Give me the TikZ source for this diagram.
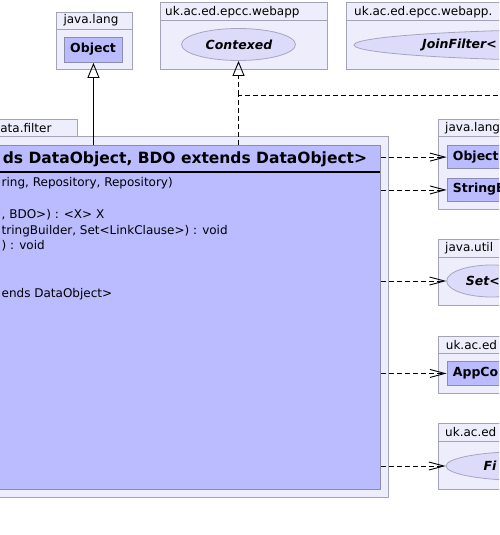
\documentclass[tikz,border=0pt]{standalone}
\usepackage{fontspec}
\setmainfont{DejaVu Sans}
\usetikzlibrary{arrows.meta}

\definecolor{pkgfill}{HTML}{EDEDFB}
\definecolor{pkgline}{HTML}{A3A3B8}
\definecolor{clsfill}{HTML}{BBBBFF}
\definecolor{clsline}{HTML}{8C8CB0}
\definecolor{ifill}{HTML}{DCDCFA}
\definecolor{iline}{HTML}{A5A5C0}

\tikzset{
  pkg/.style={draw=pkgline, fill=pkgfill, line width=0.9pt},
  clsbox/.style={draw=clsline, fill=clsfill, line width=0.9pt, inner sep=0pt, anchor=north west},
  ifc/.style={ellipse, draw=iline, fill=ifill, line width=0.8pt, inner sep=0pt},
  pkglabel/.style={anchor=west, inner sep=0pt, font=\fontsize{12}{14}\selectfont},
  clsname/.style={anchor=west, inner sep=0pt, font=\fontsize{12.5}{15}\selectfont\bfseries},
  ifcname/.style={anchor=west, inner sep=0pt, font=\fontsize{12.5}{15}\selectfont\bfseries\itshape},
  member/.style={anchor=base west, inner sep=0pt, font=\fontsize{12}{14}\selectfont},
  inh/.style={draw=black, line width=0.9pt, -{Triangle[open, length=15pt, width=12pt, line width=0.9pt]}},
  real/.style={inh, dash pattern=on 5pt off 3pt},
  dep/.style={draw=black, line width=0.9pt, dash pattern=on 5pt off 3pt,
              -{Straight Barb[length=15pt, width=8pt, line width=0.9pt]}},
  depline/.style={draw=black, line width=0.9pt, dash pattern=on 5pt off 3pt},
}
\usetikzlibrary{shapes.geometric}

\begin{document}
\begin{tikzpicture}[x=1pt, y=-1pt]
\useasboundingbox (0,0) rectangle (499,535);
\clip (0,0) rectangle (499,535);

% ---- package java.lang (top) ----
\draw[pkg] (56,12) rectangle (132.3,69);
\draw[pkg] (56,12) rectangle (132.3,29.3);
\node[pkglabel] (lblJL) at (63.3,20.6) {java.lang};
\node[clsbox, minimum width=58pt, minimum height=25pt] (obj) at (64,37) {};
\node[clsname] (objtxt) at (70,49.5) {Object};

% ---- package uk.ac.ed.epcc.webapp ----
\draw[pkg] (160,2.7) rectangle (327,69);
\draw[pkg] (160,2.7) rectangle (327,20.7);
\node[pkglabel] (lblWA) at (165,11.7) {uk.ac.ed.epcc.webapp};
\node[ifc, minimum width=114pt, minimum height=32pt] (ctx) at (238.5,44.5) {};
\node[ifcname, anchor=center] (ctxtxt) at (239,44.5) {Contexed};

% ---- package uk.ac.ed.epcc.webapp. ----
\draw[pkg] (346.7,2.7) rectangle (530,69);
\draw[pkg] (346.7,2.7) rectangle (530,20.7);
\node[pkglabel] (lblWA2) at (354,11.7) {uk.ac.ed.epcc.webapp.};
\node[ifc, minimum width=520pt, minimum height=32pt] (jf) at (614,45) {};
\node[ifcname] (jftxt) at (422,45) {JoinFilter<};

% ---- package ...data.filter with the class ----
\draw[pkg] (-20,119.3) rectangle (77.3,136.7);
\node[pkglabel, anchor=east] (lblDF) at (51.7,128) {ata.filter};
\draw[pkg] (-20,136.7) rectangle (388.5,497.3);
\node[clsbox, minimum width=400pt, minimum height=344.3pt] (cls) at (-20,145) {};
\draw[black, line width=2pt] (-20,171.7) -- (380,171.7);
\node[anchor=base east, inner sep=0pt, font=\fontsize{15.5}{18}\selectfont\bfseries]
  (clstitle) at (367.3,163.5) {ds DataObject, BDO extends DataObject>};
\node[member] (m1) at (1.5,186) {ring, Repository, Repository)};
\node[member] (m2) at (1.5,218.3) {, BDO>) : <X> X};
\node[member] (m3) at (1.5,234) {tringBuilder, Set<LinkClause>) : void};
\node[member] (m4) at (1.5,249.3) {) : void};
\node[member] (m5) at (1.5,297.3) {ends DataObject>};

% ---- package java.lang (right) ----
\draw[pkg] (438.3,119.3) rectangle (530,209);
\draw[pkg] (438.3,119.3) rectangle (530,136.7);
\node[pkglabel] (lblJL2) at (445,128) {java.lang};
\node[clsbox, minimum width=90pt, minimum height=23.3pt] (obj2) at (446.7,145) {};
\node[clsname] (obj2txt) at (452.7,156.7) {Object};
\node[clsbox, minimum width=90pt, minimum height=22.4pt] (sb) at (446.7,178.3) {};
\node[clsname] (sbtxt) at (452.7,189.5) {StringB};

% ---- package java.util ----
\draw[pkg] (438.3,239.3) rectangle (530,305);
\draw[pkg] (438.3,239.3) rectangle (530,257.3);
\node[pkglabel] (lblJU) at (445,248.3) {java.util};
\node[ifc, minimum width=90pt, minimum height=32pt] (set) at (491.7,281) {};
\node[ifcname] (settxt) at (465.7,281) {Set<};

% ---- package uk.ac.ed (middle) ----
\draw[pkg] (438.3,336) rectangle (530,393.3);
\draw[pkg] (438.3,336) rectangle (530,353.3);
\node[pkglabel] (lblUK1) at (445.7,344.7) {uk.ac.ed};
\node[clsbox, minimum width=90pt, minimum height=24pt] (app) at (446.7,361) {};
\node[clsname] (apptxt) at (452.7,373) {AppCo};

% ---- package uk.ac.ed (bottom) ----
\draw[pkg] (438.3,423.3) rectangle (530,489.3);
\draw[pkg] (438.3,423.3) rectangle (530,441.7);
\node[pkglabel] (lblUK2) at (445,432.5) {uk.ac.ed};
\node[ifc, minimum width=160pt, minimum height=29pt] (fi) at (526,466) {};
\node[ifcname] (fitxt) at (483.3,466) {Fi};

% ---- connectors ----
\coordinate (jfend) at (499,95);
\draw[inh] (obj.south |- cls.north) -- (obj.south);
\draw[depline] (ctx.south |- cls.north) |- (jfend);
\draw[real] (ctx.south |- jfend) -- (ctx.south);
\draw[dep] (cls.east |- obj2.west) -- (obj2.west);
\draw[dep] (cls.east |- sb.west) -- (sb.west);
\draw[dep] (cls.east |- set.west) -- (set.west);
\draw[dep] (cls.east |- app.west) -- (app.west);
\draw[dep] (cls.east |- fi.west) -- (fi.west);
\end{tikzpicture}
\end{document}
